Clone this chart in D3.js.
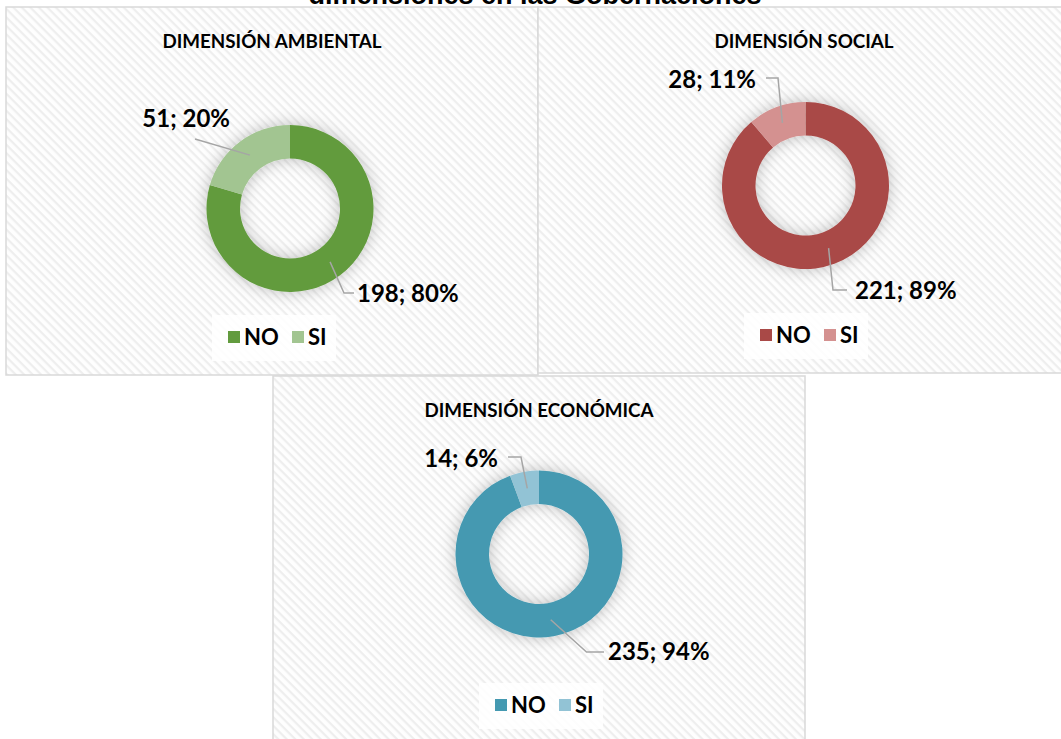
<!DOCTYPE html>
<html lang="es">
<head>
<meta charset="UTF-8">
<title>Dimensiones en las Gobernaciones</title>
<script src="https://d3js.org/d3.v7.min.js"></script>
<style>
    body { margin: 0; background: #fff; }
    text { font-family: Lato, "Open Sans", sans-serif; font-weight: bold; fill: #000; }
    .panel-title { font-size: 18.8px; text-anchor: middle; }
    .slice-label { font-size: 24px; }
    .legend-text { font-size: 22px; }
    .leader { fill: none; stroke: #a5a5a5; stroke-width: 1.5px; }
</style>
</head>
<body>
<div id="chart"></div>
<script>
    // data
    const categories = ["NO", "SI"];
    const titles = ["DIMENSIÓN AMBIENTAL", "DIMENSIÓN SOCIAL", "DIMENSIÓN ECONÓMICA"];
    const ambientalValues = [198, 51];
    const socialValues = [221, 28];
    const economicaValues = [235, 14];
    const pageTitle = "dimensiones en las Gobernaciones";

    const width = 1061, height = 739;

    const svg = d3.select("#chart").append("svg")
        .attr("width", width)
        .attr("height", height);

    const defs = svg.append("defs");

    // light diagonal hatch like the Excel chart area fill
    const pat = defs.append("pattern")
        .attr("id", "hatch")
        .attr("patternUnits", "userSpaceOnUse")
        .attr("width", 6).attr("height", 6)
        .attr("patternTransform", "rotate(45)");
    pat.append("rect").attr("width", 6).attr("height", 6).attr("fill", "#fefefe");
    pat.append("rect").attr("width", 6).attr("height", 2.2).attr("fill", "#eeeeee");

    const glow = defs.append("filter")
        .attr("id", "glow")
        .attr("x", "-30%").attr("y", "-30%")
        .attr("width", "160%").attr("height", "160%");
    glow.append("feDropShadow")
        .attr("dx", 0).attr("dy", 0)
        .attr("stdDeviation", 8)
        .attr("flood-color", "#000")
        .attr("flood-opacity", 0.25);

    // page title, cut off at the top edge as in the source
    svg.append("text")
        .attr("x", 535)
        .attr("y", 4)
        .attr("text-anchor", "middle")
        .style("font-family", "'Liberation Sans', Arial, sans-serif")
        .style("font-size", "27px")
        .text(pageTitle);

    const panels = [
        {
            title: titles[0], values: ambientalValues,
            colors: ["#629b3e", "#a2c591"],
            x: 6, y: 7, w: 532, h: 368, dcx: 18, dcy: 201.5, legY: 330,
            labels: [
                { anchor: "start", tx: 67, ty: 93.5, pts: [[54, 84.5], [64, 84.5]] },
                { anchor: "end", tx: -60, ty: -81.5, pts: [[-95, -69.5]] }
            ]
        },
        {
            title: titles[1], values: socialValues,
            colors: ["#a94947", "#d49190"],
            x: 538, y: 7, w: 532, h: 366, dcx: 1.5, dcy: 178.5, legY: 328,
            labels: [
                { anchor: "start", tx: 49.5, ty: 113.5, pts: [[27.5, 104.5], [41.5, 104.5]] },
                { anchor: "end", tx: -49.5, ty: -97.5, pts: [[-27.5, -107.5], [-39.5, -107.5]] }
            ]
        },
        {
            title: titles[2], values: economicaValues,
            colors: ["#4499b1", "#92c3d5"],
            x: 273, y: 376, w: 532, h: 370, dcx: 0, dcy: 178, legY: 329,
            labels: [
                { anchor: "start", tx: 69, ty: 106, pts: [[47.5, 98], [65, 98]] },
                { anchor: "end", tx: -41, ty: -87, pts: [[-18, -97], [-31, -97]] }
            ]
        }
    ];

    const outerR = 83.5, innerR = 50;
    const pct = d3.format(".0%");

    const pie = d3.pie().sort(null).value(d => d);
    const arc = d3.arc().innerRadius(innerR).outerRadius(outerR);
    const midArc = d3.arc().innerRadius((innerR + outerR) / 2).outerRadius((innerR + outerR) / 2);

    panels.forEach(p => {
        const g = svg.append("g").attr("transform", `translate(${p.x},${p.y})`);
        const total = d3.sum(p.values);
        const color = d3.scaleOrdinal().domain(categories).range(p.colors);

        g.append("rect")
            .attr("x", 0).attr("y", 0)
            .attr("width", p.w).attr("height", p.h)
            .attr("fill", "url(#hatch)")
            .attr("stroke", "#d9d9d9")
            .attr("stroke-width", 1.5);

        g.append("text")
            .attr("class", "panel-title")
            .attr("x", p.w / 2)
            .attr("y", 41)
            .text(p.title);

        const cx = p.w / 2 + p.dcx, cy = p.dcy;
        const donut = g.append("g").attr("transform", `translate(${cx},${cy})`);
        const arcs = pie(p.values);

        donut.append("g")
            .attr("filter", "url(#glow)")
            .selectAll("path")
            .data(arcs)
            .enter().append("path")
            .attr("d", arc)
            .attr("fill", (d, i) => color(categories[i]));

        // leader lines and data labels
        arcs.forEach((d, i) => {
            const lab = p.labels[i];
            const pts = [midArc.centroid(d)].concat(lab.pts);
            donut.append("path")
                .attr("class", "leader")
                .attr("d", d3.line()(pts));
            donut.append("text")
                .attr("class", "slice-label")
                .attr("text-anchor", lab.anchor)
                .attr("x", lab.tx)
                .attr("y", lab.ty)
                .text(`${d.data}; ${pct(d.data / total)}`);
        });

        // legend
        const leg = g.append("g").attr("transform", `translate(${p.w / 2 - 44},${p.legY})`);
        leg.append("rect")
            .attr("x", -16).attr("y", -22)
            .attr("width", 124).attr("height", 46)
            .attr("fill", "#fff").attr("opacity", 0.85);
        const item = leg.selectAll(".item")
            .data(categories)
            .enter().append("g")
            .attr("transform", (d, i) => `translate(${i * 64},0)`);
        item.append("rect")
            .attr("x", 0).attr("y", -6)
            .attr("width", 12).attr("height", 12)
            .attr("fill", d => color(d));
        item.append("text")
            .attr("class", "legend-text")
            .attr("x", 16)
            .attr("y", 8)
            .text(d => d);
    });
</script>
</body>
</html>
